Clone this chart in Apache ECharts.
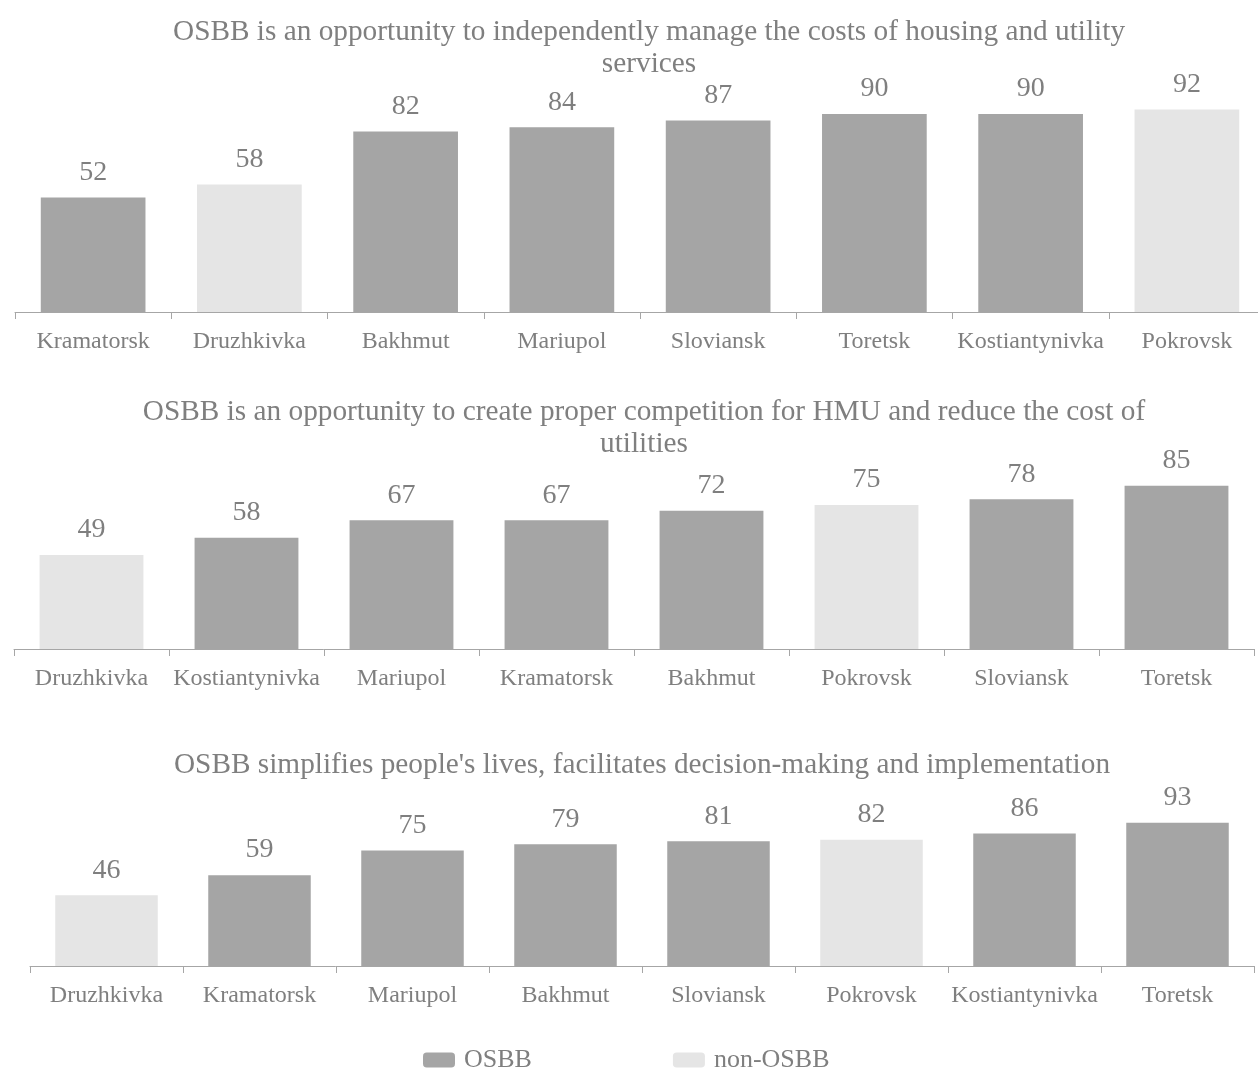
<!DOCTYPE html>
<html>
<head>
<meta charset="utf-8">
<script src="https://cdn.jsdelivr.net/npm/echarts@6/dist/echarts.min.js"></script>
<style>
  html, body { margin: 0; padding: 0; background: #ffffff; overflow: hidden; }
  #chart { width: 1272px; height: 1068px; }
</style>
</head>
<body>
<div id="chart"></div>
<script>
// Panel titles
const titles = [
  'OSBB is an opportunity to independently manage the costs of housing and utility\nservices',
  'OSBB is an opportunity to create proper competition for HMU and reduce the cost of\nutilities',
  "OSBB simplifies people's lives, facilitates decision-making and implementation"
];

// Cities without OSBB (drawn in the lighter colour)
const nonOsbbCities = ['Druzhkivka', 'Pokrovsk'];

// Panel 1: manage housing and utility costs
const cities1 = ['Kramatorsk', 'Druzhkivka', 'Bakhmut', 'Mariupol', 'Sloviansk', 'Toretsk', 'Kostiantynivka', 'Pokrovsk'];
const values1 = [52, 58, 82, 84, 87, 90, 90, 92];

// Panel 2: competition for HMU
const cities2 = ['Druzhkivka', 'Kostiantynivka', 'Mariupol', 'Kramatorsk', 'Bakhmut', 'Pokrovsk', 'Sloviansk', 'Toretsk'];
const values2 = [49, 58, 67, 67, 72, 75, 78, 85];

// Panel 3: simplifies people's lives
const cities3 = ['Druzhkivka', 'Kramatorsk', 'Mariupol', 'Bakhmut', 'Sloviansk', 'Pokrovsk', 'Kostiantynivka', 'Toretsk'];
const values3 = [46, 59, 75, 79, 81, 82, 86, 93];

const seriesNames = ['OSBB', 'non-OSBB'];

const FONT = '"Liberation Serif", "Times New Roman", serif';
const TEXT = '#7f7f7f';
const DARK = '#a5a5a5';
const LIGHT = '#e5e5e5';

// The first panel runs slightly past the right edge of the page
const panels = [
  { cities: cities1, values: values1, grid: { left: 15, width: 1250, top: 92, height: 220 }, titleTop: 16, titleX: 649 },
  { cities: cities2, values: values2, grid: { left: 14, width: 1240, top: 457, height: 192 }, titleTop: 396, titleX: 644 },
  { cities: cities3, values: values3, grid: { left: 30, width: 1224, top: 812, height: 154 }, titleTop: 749, titleX: 642 }
];

const option = {
  backgroundColor: '#ffffff',
  animation: false,
  textStyle: { fontFamily: FONT, color: TEXT },
  title: panels.map((p, i) => ({
    text: titles[i],
    left: p.titleX,
    top: p.titleTop,
    padding: 0,
    textAlign: 'center',
    textStyle: { fontFamily: FONT, fontSize: 29.3, fontWeight: 'normal', color: TEXT, lineHeight: 32 }
  })),
  legend: {
    data: seriesNames,
    left: 423,
    top: 1047,
    padding: 0,
    itemWidth: 32,
    itemHeight: 15,
    itemGap: 141,
    icon: 'roundRect',
    textStyle: { fontFamily: FONT, fontSize: 26, color: TEXT, padding: [0, 0, 0, 4] }
  },
  grid: panels.map(p => Object.assign({ containLabel: false }, p.grid)),
  xAxis: panels.map((p, i) => ({
    type: 'category',
    gridIndex: i,
    data: p.cities,
    axisLine: { show: true, lineStyle: { color: '#a6a6a6', width: 1 } },
    axisTick: { show: true, length: 7, lineStyle: { color: '#a6a6a6' } },
    axisLabel: { fontFamily: FONT, fontSize: 24, color: TEXT, margin: 18, interval: 0 }
  })),
  yAxis: panels.map((p, i) => ({
    type: 'value',
    gridIndex: i,
    min: 0,
    max: 100,
    show: false,
    splitLine: { show: false }
  })),
  series: []
};

panels.forEach((p, i) => {
  seriesNames.forEach((name, k) => {
    const isNon = k === 1;
    option.series.push({
      name: name,
      type: 'bar',
      xAxisIndex: i,
      yAxisIndex: i,
      barWidth: '67%',
      barGap: '-100%',
      itemStyle: { color: isNon ? LIGHT : DARK },
      label: {
        show: true,
        position: 'top',
        distance: 11,
        fontFamily: FONT,
        fontSize: 28,
        color: TEXT
      },
      data: p.values.map((v, j) => (nonOsbbCities.includes(p.cities[j]) === isNon ? v : '-'))
    });
  });
});

const chart = echarts.init(document.getElementById('chart'), null, { renderer: 'canvas' });
chart.setOption(option);
</script>
</body>
</html>
